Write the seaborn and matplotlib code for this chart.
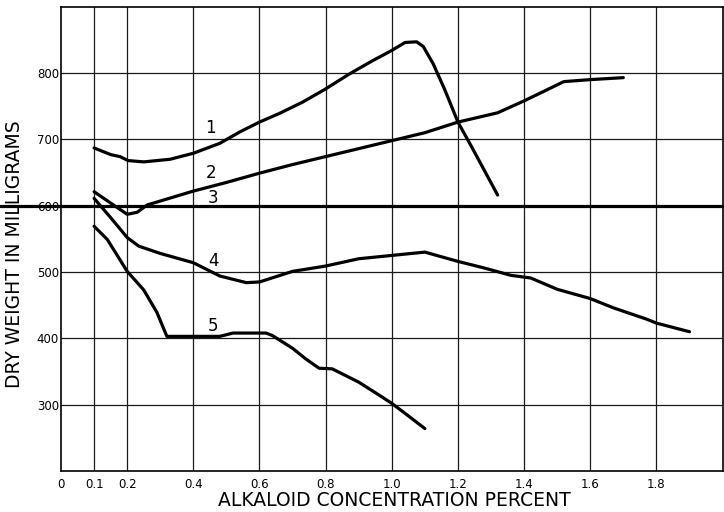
import matplotlib
matplotlib.use("Agg")
import matplotlib.pyplot as plt
import seaborn as sns
import pandas as pd

# ---- data ----
c1_x = [0.10, 0.15, 0.178, 0.203, 0.25, 0.33, 0.40, 0.48, 0.54, 0.60, 0.66, 0.73, 0.80, 0.87, 0.94, 1.00, 1.04, 1.075, 1.095, 1.125, 1.16, 1.20, 1.24, 1.28, 1.32]
c1_y = [687, 677, 674, 668, 666, 670, 679, 694, 711, 726, 739, 756, 776, 798, 818, 834, 846, 847, 840, 814, 775, 726, 690, 653, 616]

c2_x = [0.10, 0.15, 0.20, 0.23, 0.26, 0.30, 0.40, 0.50, 0.60, 0.70, 0.80, 0.90, 1.00, 1.10, 1.20, 1.32, 1.40, 1.45, 1.52, 1.60, 1.70]
c2_y = [621, 604, 587, 590, 601, 607, 622, 635, 649, 662, 674, 686, 698, 710, 726, 740, 758, 770, 787, 790, 793]

c3_x = [-0.185, 2.0]
c3_y = [600, 600]

c4_x = [0.10, 0.15, 0.20, 0.235, 0.30, 0.40, 0.48, 0.56, 0.60, 0.70, 0.80, 0.90, 1.00, 1.10, 1.20, 1.28, 1.36, 1.42, 1.50, 1.60, 1.67, 1.77, 1.80, 1.90]
c4_y = [611, 582, 552, 539, 528, 514, 494, 484, 485, 501, 509, 520, 525, 530, 516, 506, 495, 491, 474, 460, 446, 429, 423, 410]

c5_x = [0.10, 0.14, 0.20, 0.25, 0.29, 0.32, 0.40, 0.48, 0.52, 0.62, 0.64, 0.70, 0.74, 0.78, 0.82, 0.90, 0.96, 1.00, 1.04, 1.10]
c5_y = [569, 549, 501, 473, 439, 403, 403, 403, 408, 408, 404, 385, 369, 355, 354, 334, 315, 302, 287, 264]

curve_names = ["1", "2", "3", "4", "5"]
label_x = [0.451, 0.455, 0.46, 0.46, 0.458]
label_y = [717, 649, 611, 516, 418]

x_ticks = [0, 0.1, 0.2, 0.4, 0.6, 0.8, 1.0, 1.2, 1.4, 1.6, 1.8]
x_tick_labels = ["0", "0.1", "0.2", "0.4", "0.6", "0.8", "1.0", "1.2", "1.4", "1.6", "1.8"]
y_ticks = [300, 400, 500, 600, 700, 800]
y_tick_labels = ["300", "400", "500", "600", "700", "800"]

sns.set_theme(style="white")
plt.rcParams["font.family"] = ["DejaVu Sans"]

fig = plt.figure(figsize=(7.24, 5.12), dpi=100)
ax = fig.add_axes([0.0843, 0.080, 0.9137, 0.907])

# grid lines drawn from tick positions
for xv in x_ticks[1:]:
    ax.axvline(xv, color="#1a1a1a", lw=0.9, zorder=1)
for yv in y_ticks:
    ax.axhline(yv, color="#1a1a1a", lw=0.9, zorder=1)

curves = [(c1_x, c1_y), (c2_x, c2_y), (c3_x, c3_y), (c4_x, c4_y), (c5_x, c5_y)]
for (xs, ys) in curves:
    df = pd.DataFrame({"x": xs, "y": ys})
    sns.lineplot(data=df, x="x", y="y", ax=ax, color="black", lw=2.3,
                 sort=False, estimator=None, zorder=3, clip_on=False,
                 solid_joinstyle="round", solid_capstyle="round")

for name, lx, ly in zip(curve_names, label_x, label_y):
    ax.text(lx, ly, name, fontsize=12, ha="center", va="center", color="black", zorder=4)

ax.set_xlim(0, 2.0)
ax.set_ylim(200, 900)
ax.set_xticks(x_ticks)
ax.set_xticklabels(x_tick_labels)
ax.set_yticks(y_ticks)
ax.set_yticklabels(y_tick_labels)
ax.tick_params(axis="both", length=0, labelsize=8.5, colors="black")
ax.tick_params(axis="x", pad=5)
ax.tick_params(axis="y", pad=1.5)

for s in ax.spines.values():
    s.set_color("black")
    s.set_linewidth(1.2)

ax.set_xlabel("ALKALOID CONCENTRATION PERCENT", fontsize=13.5, color="black")
ax.set_ylabel("DRY WEIGHT IN MILLIGRAMS", fontsize=13.5, color="black")
ax.xaxis.label.set_va("center")
ax.yaxis.label.set_va("center")
ax.xaxis.set_label_coords(0.504, -0.064)
ax.yaxis.set_label_coords(-0.071, 0.468)

fig.savefig("out.png", dpi=100, facecolor="white")
